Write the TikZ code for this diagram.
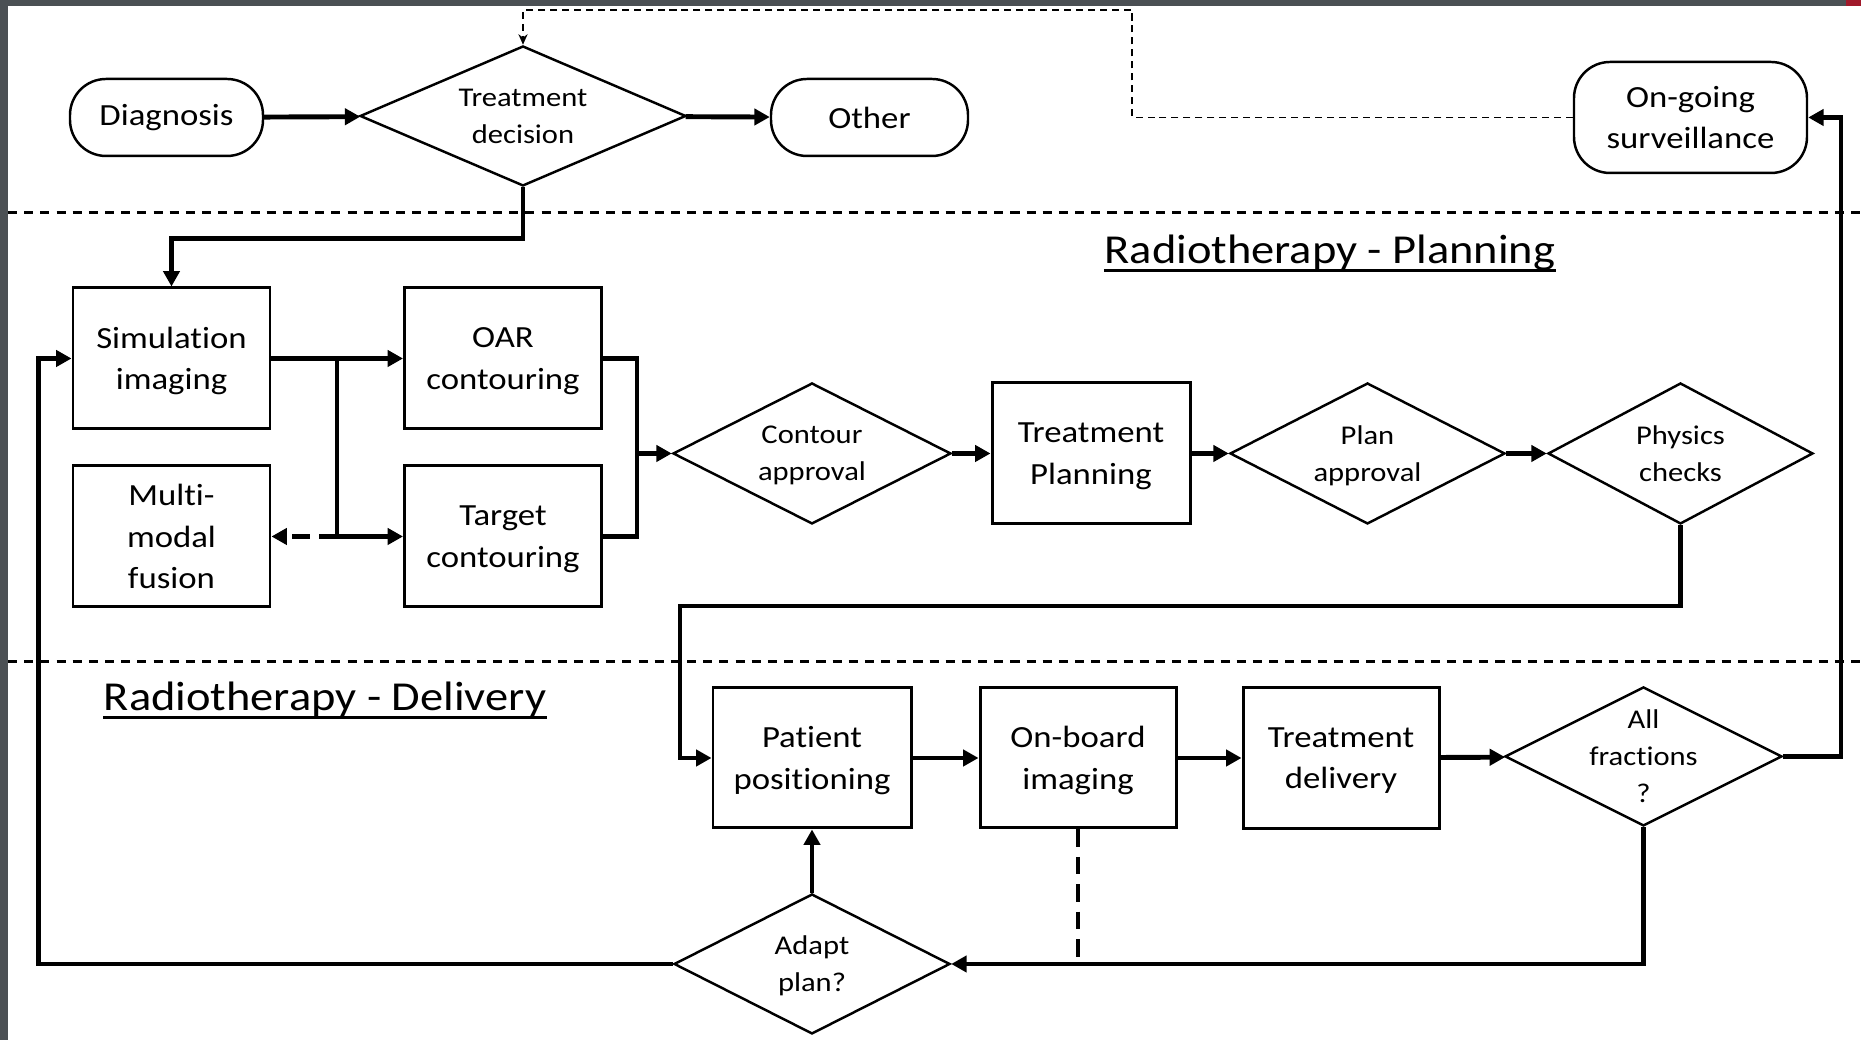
\documentclass[tikz,border=0pt]{standalone}
\usepackage{fontspec}
\setmainfont[FakeStretch=1.13, Ligatures=NoCommon]{Carlito}
\usetikzlibrary{shapes.geometric,arrows.meta}

\definecolor{frame}{RGB}{75,80,84}
\definecolor{corner}{RGB}{160,25,42}

\begin{document}
\begin{tikzpicture}[
    process/.style={draw, align=center, text depth=0pt, line width=0.85pt,
        minimum width=1.97cm, minimum height=1.41cm, font=\fontsize{8.75}{11.8}\selectfont},
    decision/.style={draw, diamond, align=center, text depth=0pt, shape aspect=2,
        line width=0.7pt, inner sep=0pt, font=\fontsize{7.7}{10.5}\selectfont},
    terminal/.style={draw, align=center, rounded corners=3.6mm, line width=0.7pt,
        font=\fontsize{8.75}{11.8}\selectfont},
    flow/.style={line width=1.4pt, -{Triangle[length=4.4pt,width=4.6pt]}},
    link/.style={line width=1.4pt},
    option/.style={dash pattern=on 5pt off 2.8pt},
    recall/.style={line width=0.5pt, dash pattern=on 2pt off 1.4pt,
        -{Stealth[length=3pt,width=2.6pt]}},
    lane/.style={line width=0.85pt, dash pattern=on 2.6pt off 2pt},
    heading/.style={anchor=base, inner sep=0pt, font=\fontsize{11.7}{14}\selectfont},
    underscore/.style={line width=0.77pt}
]

% background and frame
    \fill[white] (0,0) rectangle (18.61,10.40);
    \fill[frame] (0,0) rectangle (0.08,10.40);
    \fill[frame] (0,10.34) rectangle (18.61,10.40);
    \fill[corner] (18.46,10.34) rectangle (18.61,10.40);
    \useasboundingbox (0,0) rectangle (18.61,10.40);

% lanes
    \draw[lane] (0.08,8.27) -- (18.61,8.27);
    \draw[lane] (0.08,3.78) -- (18.61,3.78);
% lane titles
    \node[heading] (plantitle) at (13.30,7.76) {Radiotherapy - Planning};
    \draw[underscore] ([yshift=-1.85pt]plantitle.base west) -- ([yshift=-1.85pt]plantitle.base east);
    \node[heading] (deltitle) at (3.25,3.29) {Radiotherapy - Delivery};
    \draw[underscore] ([yshift=-1.85pt]deltitle.base west) -- ([yshift=-1.85pt]deltitle.base east);

% top row
    \node[terminal, minimum width=1.93cm, minimum height=0.77cm] (diag) at (1.665,9.225) {Diagnosis};
    \node[decision, shape aspect=2.33, minimum width=3.26cm, minimum height=1.40cm] (dec) at (5.23,9.24) {Treatment\\decision};
    \node[terminal, minimum width=1.97cm, minimum height=0.77cm] (other) at (8.695,9.225) {Other};
    \node[terminal, minimum width=2.33cm, minimum height=1.11cm] (surv) at (16.905,9.225) {On-going\\surveillance};

% planning
    \node[process] (sim) at (1.715,6.815) {Simulation\\imaging};
    \node[process] (oar) at (5.03,6.815) {OAR\\contouring};
    \node[process] (fus) at (1.715,5.035) {Multi-\\modal\\fusion};
    \node[process] (tgt) at (5.03,5.035) {Target\\contouring};
    \node[decision, minimum width=2.78cm, minimum height=1.41cm] (capp) at (8.12,5.865) {Contour\\approval};
    \node[process, minimum width=1.98cm] (tplan) at (10.91,5.865) {Treatment\\Planning};
    \node[decision, minimum width=2.75cm, minimum height=1.41cm] (papp) at (13.675,5.865) {Plan\\approval};
    \node[decision, minimum width=2.65cm, minimum height=1.41cm] (phys) at (16.805,5.865) {Physics\\checks};

% delivery
    \node[process, minimum width=1.98cm, minimum height=1.40cm] (pos) at (8.12,2.82) {Patient\\positioning};
    \node[process, minimum width=1.96cm, minimum height=1.40cm] (obi) at (10.78,2.82) {On-board\\imaging};
    \node[process, minimum width=1.96cm, minimum height=1.41cm] (tdel) at (13.41,2.82) {Treatment\\delivery};
    \node[decision, minimum width=2.77cm, minimum height=1.39cm, inner ysep=-3pt] (frac) at (16.435,2.835) {All\\fractions\\?};
    \node[decision, minimum width=2.76cm, minimum height=1.40cm] (adapt) at (8.12,0.76) {Adapt\\plan?};

% helper points
    \coordinate (split) at (3.37,6.815);
    \coordinate (splitlow) at (3.37,5.035);
    \coordinate (merge) at (6.37,5.865);

% top row arrows
    \draw[flow] (diag) -- (dec);
    \draw[flow] (dec) -- (other);
    \draw[recall] (surv.west) -| (11.32,10.30) -| (dec.north);
    \draw[flow] (dec.south) -- ++(0,-0.51) -| (sim.north);

% planning arrows
    \draw[flow] (sim) -- (oar);
    \draw[flow] (split) |- (tgt.west);
    \draw[flow, option] (splitlow) -- (fus.east);
    \draw[link] (oar.east) -| (merge) |- (tgt.east);
    \draw[flow] (merge) -- (capp.west);
    \draw[flow] (capp) -- (tplan);
    \draw[flow] (tplan) -- (papp);
    \draw[flow] (papp) -- (phys);
    \draw[flow] (phys.south) |- (6.80,4.34) |- (pos.west);

% delivery arrows
    \draw[flow] (pos) -- (obi);
    \draw[flow] (obi) -- (tdel);
    \draw[flow] (tdel) -- (frac);
    \draw[flow] (frac.east) -| (18.41,9.225) -- (surv.east);
    \draw[flow] (frac.south) |- (adapt.east);
    \draw[link, option] (obi.south) -- (obi.south |- adapt.east);
    \draw[flow] (adapt) -- (pos);
    \draw[flow] (adapt.west) -| (0.385,6.815) -- (sim.west);

\end{tikzpicture}
\end{document}
